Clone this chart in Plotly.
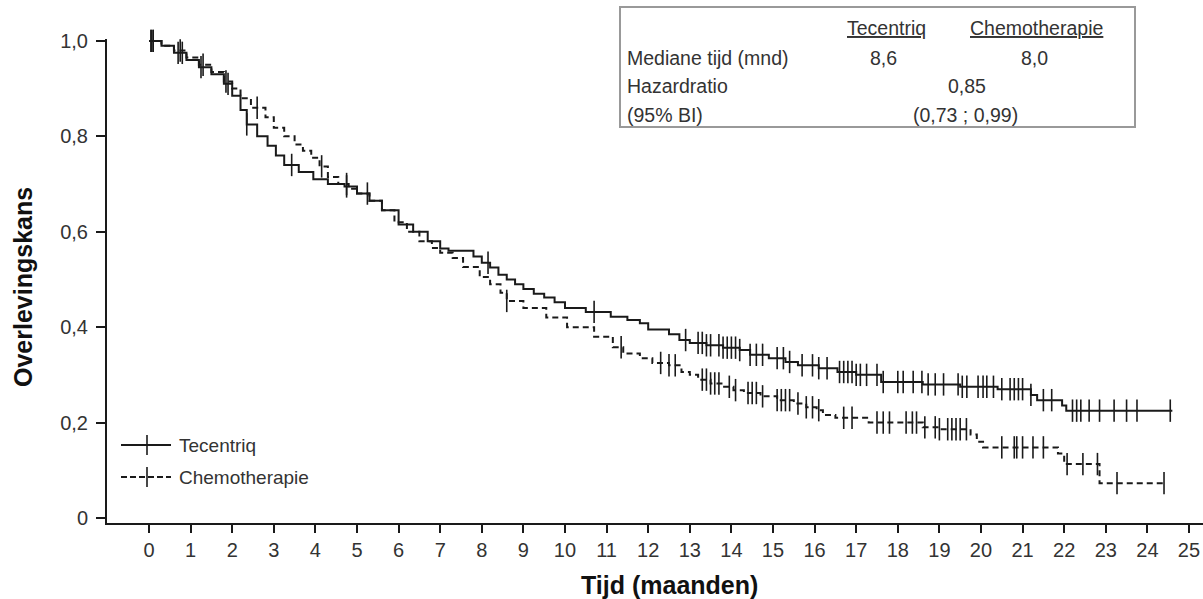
import numpy as np
import plotly.graph_objects as go

# ---------------- data ----------------
tec_time = [0, 0.3, 0.6, 0.9, 1.2, 1.5, 1.8, 2.0, 2.2, 2.35, 2.6, 2.85, 3.05, 3.25, 3.6, 3.95, 4.3,
            4.7, 5.0, 5.3, 5.6, 6.0, 6.35, 6.7, 7.0, 7.2, 7.8, 8.0, 8.2, 8.4, 8.6, 8.8, 9.0, 9.25,
            9.5, 9.75, 10.0, 10.5, 11.1, 11.5, 11.8, 12.0, 12.5, 12.75, 13.0, 13.4, 13.8, 14.2,
            14.45, 14.9, 15.3, 15.6, 16.1, 16.55, 17.0, 17.6, 18.6, 19.5, 20.4, 21.2, 21.35,
            21.95, 22.05, 24.6]
tec_surv = [1.0, 0.99, 0.975, 0.96, 0.945, 0.93, 0.91, 0.885, 0.855, 0.825, 0.80, 0.78, 0.76, 0.74,
            0.725, 0.71, 0.70, 0.695, 0.68, 0.665, 0.645, 0.615, 0.60, 0.58, 0.565, 0.56, 0.548,
            0.535, 0.525, 0.51, 0.50, 0.49, 0.48, 0.47, 0.462, 0.452, 0.44, 0.432, 0.422, 0.415,
            0.408, 0.395, 0.385, 0.373, 0.367, 0.362, 0.357, 0.352, 0.342, 0.335, 0.327, 0.32,
            0.314, 0.306, 0.30, 0.285, 0.28, 0.275, 0.27, 0.258, 0.247, 0.236, 0.225, 0.225]
tec_censor = [0.05, 0.1, 0.7, 0.8, 1.25, 1.9, 2.35, 3.43, 4.75, 5.25, 8.15, 10.7, 12.9, 13.2, 13.3,
              13.4, 13.5, 13.7, 13.8, 13.9, 14.0, 14.1, 14.2, 14.45, 14.6, 14.75, 15.1, 15.25,
              15.4, 15.7, 15.95, 16.1, 16.3, 16.6, 16.7, 16.8, 16.9, 17.0, 17.1, 17.25, 17.5,
              17.65, 18.0, 18.13, 18.37, 18.58, 18.73, 18.9, 19.1, 19.45, 19.55, 19.66, 19.93,
              20.05, 20.14, 20.3, 20.5, 20.7, 20.8, 20.9, 21.0, 21.2, 21.5, 21.7, 22.2, 22.3,
              22.4, 22.6, 22.85, 23.2, 23.5, 23.75, 24.55]

chemo_time = [0, 0.3, 0.6, 0.9, 1.2, 1.5, 1.8, 2.0, 2.2, 2.45, 2.8, 3.0, 3.25, 3.5, 3.7, 3.9, 4.1,
              4.3, 4.55, 4.8, 5.0, 5.3, 5.6, 5.9, 6.2, 6.5, 6.8, 7.0, 7.3, 7.55, 7.95, 8.2, 8.45,
              8.6, 9.0, 9.55, 10.05, 10.7, 11.15, 11.4, 11.8, 12.1, 12.5, 12.8, 13.0, 13.2, 13.5,
              13.8, 14.05, 14.3, 14.7, 15.1, 15.5, 15.8, 16.05, 16.2, 16.5, 17.3, 18.6, 19.0,
              19.75, 19.9, 20.05, 21.85, 22.0, 22.85, 24.4]
chemo_surv = [1.0, 0.99, 0.98, 0.965, 0.95, 0.935, 0.915, 0.90, 0.88, 0.86, 0.84, 0.818, 0.80,
              0.783, 0.77, 0.755, 0.737, 0.715, 0.70, 0.69, 0.68, 0.665, 0.645, 0.62, 0.60, 0.58,
              0.566, 0.556, 0.545, 0.526, 0.505, 0.49, 0.472, 0.455, 0.44, 0.42, 0.40, 0.38,
              0.358, 0.345, 0.335, 0.325, 0.32, 0.306, 0.30, 0.29, 0.282, 0.275, 0.268, 0.262,
              0.255, 0.247, 0.24, 0.232, 0.226, 0.216, 0.21, 0.20, 0.19, 0.186, 0.175, 0.16,
              0.148, 0.135, 0.113, 0.073, 0.073]
chemo_censor = [0.05, 0.1, 0.75, 1.3, 1.85, 2.6, 4.15, 4.75, 8.6, 11.35, 12.3, 12.5, 12.65, 13.3,
                13.4, 13.5, 13.6, 13.7, 13.95, 14.1, 14.4, 14.5, 14.6, 14.75, 15.1, 15.2, 15.3,
                15.4, 15.6, 15.8, 15.95, 16.1, 16.7, 16.9, 17.5, 17.65, 17.8, 18.2, 18.35, 18.45,
                18.65, 18.9, 19.0, 19.2, 19.3, 19.4, 19.5, 19.65, 20.5, 20.8, 20.86, 21.0, 21.25,
                21.5, 22.07, 22.45, 22.8, 23.27, 24.4]

series_names = ["Tecentriq", "Chemotherapie"]
x_ticks = list(range(0, 26))
y_ticks = [0, 0.2, 0.4, 0.6, 0.8, 1.0]
y_ticktext = ["0", "0,2", "0,4", "0,6", "0,8", "1,0"]

table_header = ["Tecentriq", "Chemotherapie"]
table_rows = ["Mediane tijd (mnd)", "Hazardratio", "(95% BI)"]
median_vals = ["8,6", "8,0"]
hazard_ratio = "0,85"
hazard_ci = "(0,73 ; 0,99)"

# ---------------- helpers ----------------
W, H = 1203, 599
ML, MR, MT, MB = 107, 0, 39, 76
PW, PH = W - ML - MR, H - MT - MB


def px(xp):
    return (xp - ML) / PW


def py(yp):
    return (H - MB - yp) / PH


def step_at(times, surv, t):
    idx = np.searchsorted(np.asarray(times), t, side="right") - 1
    return np.asarray(surv)[np.clip(idx, 0, len(surv) - 1)]


INK = "#1a1a1a"
FONT = "Liberation Sans, Arial, sans-serif"

fig = go.Figure()

styles = [
    (tec_time, tec_surv, tec_censor, "solid"),
    (chemo_time, chemo_surv, chemo_censor, "6px,4px"),
]
for name, (tt, ss, cc, dash) in zip(series_names, styles):
    fig.add_trace(go.Scatter(
        x=tt, y=ss, mode="lines", name=name, line_shape="hv",
        line=dict(color=INK, width=2, dash=dash), hoverinfo="skip"))
    fig.add_trace(go.Scatter(
        x=cc, y=step_at(tt, ss, cc), mode="markers", name=name + " gecensureerd",
        marker=dict(symbol="line-ns-open", size=16, color=INK, line=dict(color=INK, width=1.6)),
        cliponaxis=False, hoverinfo="skip"))

fig.update_layout(
    width=W, height=H,
    margin=dict(l=ML, r=MR, t=MT, b=MB),
    paper_bgcolor="white", plot_bgcolor="white",
    showlegend=False,
    font=dict(family=FONT, color="#333"),
    xaxis=dict(range=[-1.0096, 25.337], tickvals=x_ticks, ticktext=[str(v) for v in x_ticks],
               ticks="outside", ticklen=8, tickwidth=2, tickcolor=INK,
               showline=True, linewidth=2, linecolor=INK, showgrid=False, zeroline=False,
               tickfont=dict(size=20, color="#333", family=FONT)),
    yaxis=dict(range=[-0.0105, 1.004], tickvals=y_ticks, ticktext=y_ticktext,
               ticks="outside", ticklen=9, tickwidth=2, tickcolor=INK,
               showline=True, linewidth=2, linecolor=INK, showgrid=False, zeroline=False,
               ticklabelstandoff=4,
               tickfont=dict(size=20, color="#333", family=FONT)),
)

ann = []
# axis titles
ann.append(dict(text="<b>Tijd (maanden)</b>", x=px(669), y=py(585), xref="paper", yref="paper",
                showarrow=False, xanchor="center", yanchor="middle",
                font=dict(size=25, color="#111", family=FONT)))
ann.append(dict(text="<b>Overlevingskans</b>", x=px(23), y=py(287), xref="paper", yref="paper",
                showarrow=False, xanchor="center", yanchor="middle", textangle=-90,
                font=dict(size=25, color="#111", family=FONT)))

# legend (drawn)
shapes = []
leg_y = [445, 477]
leg_dash = ["solid", "6px,3px"]
for name, yy, dsh in zip(series_names, leg_y, leg_dash):
    shapes.append(dict(type="line", xref="paper", yref="paper", x0=px(121), x1=px(171),
                       y0=py(yy), y1=py(yy), line=dict(color=INK, width=2, dash=dsh)))
    shapes.append(dict(type="line", xref="paper", yref="paper", x0=px(147), x1=px(147),
                       y0=py(yy - 10), y1=py(yy + 10), line=dict(color=INK, width=1.6)))
    ann.append(dict(text=name, x=px(177), y=py(yy), xref="paper", yref="paper", showarrow=False,
                    xanchor="left", yanchor="middle", font=dict(size=19, color="#333", family=FONT)))

# summary table box
shapes.append(dict(type="rect", xref="paper", yref="paper", x0=px(620), x1=px(1135),
                   y0=py(127), y1=py(7), line=dict(color="#999", width=2), fillcolor="white",
                   layer="above"))
tf = dict(size=19.5, color="#333", family=FONT)
for txt, cx in zip(table_header, [886, 1036]):
    ann.append(dict(text="<u>" + txt + "</u>", x=px(cx), y=py(28), xref="paper", yref="paper",
                    showarrow=False, xanchor="center", yanchor="middle", font=tf))
for txt, ry in zip(table_rows, [58, 86, 115]):
    ann.append(dict(text=txt, x=px(625), y=py(ry), xref="paper", yref="paper", showarrow=False,
                    xanchor="left", yanchor="middle", font=tf))
for txt, cx in zip(median_vals, [883, 1034]):
    ann.append(dict(text=txt, x=px(cx), y=py(58), xref="paper", yref="paper", showarrow=False,
                    xanchor="center", yanchor="middle", font=tf))
ann.append(dict(text=hazard_ratio, x=px(967), y=py(86), xref="paper", yref="paper",
                showarrow=False, xanchor="center", yanchor="middle", font=tf))
ann.append(dict(text=hazard_ci, x=px(966), y=py(115), xref="paper", yref="paper",
                showarrow=False, xanchor="center", yanchor="middle", font=tf))

fig.update_layout(annotations=ann, shapes=shapes)
fig.write_html("out.html")
